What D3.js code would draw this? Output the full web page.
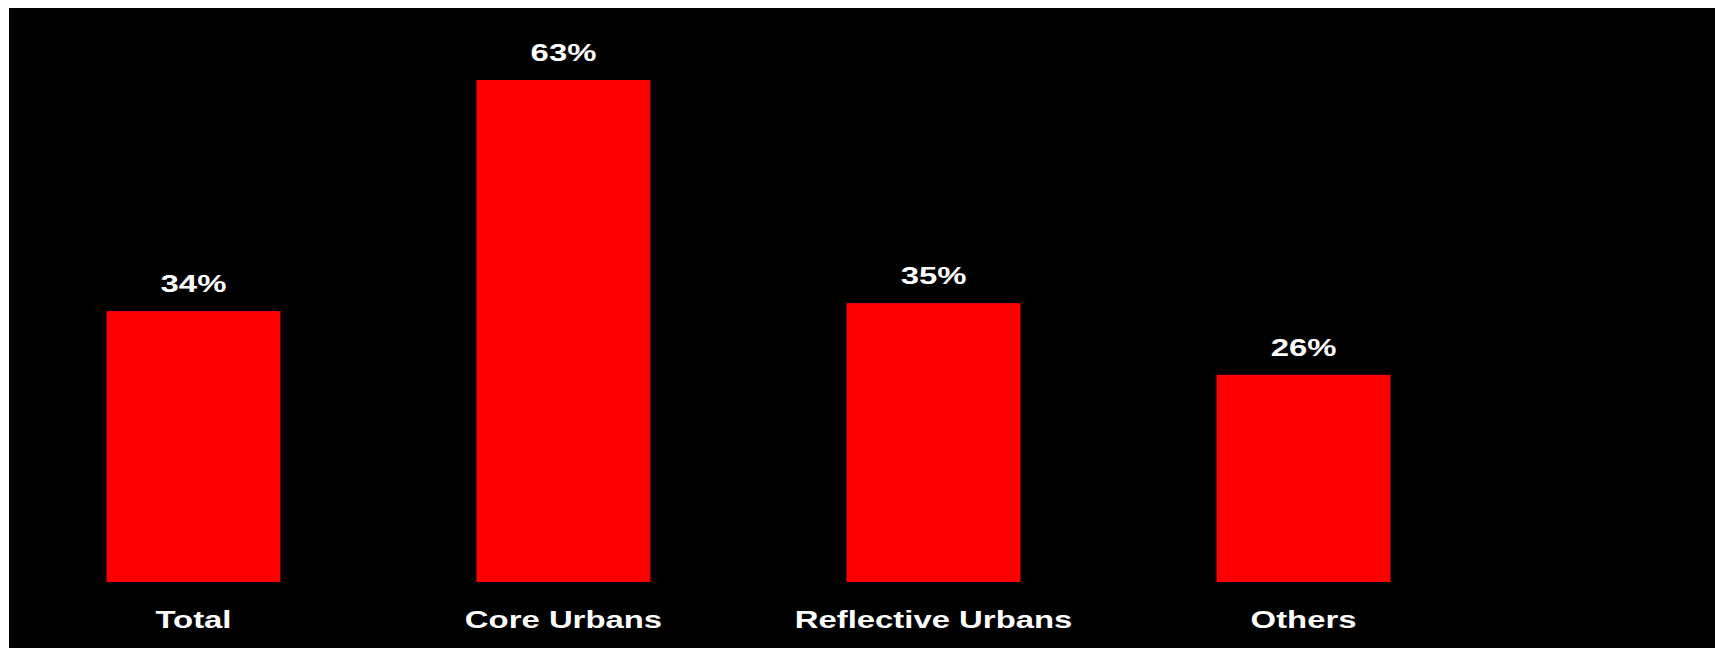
<!DOCTYPE html>
<html>
<head>
<meta charset="utf-8">
<script src="https://cdn.jsdelivr.net/npm/d3@7"></script>
<style>
  body { margin: 0; background: #fff; }
  svg { display: block; }
</style>
</head>
<body>
<div id="vis-container"></div>
<script>
// chart data
let categories = ["Total", "Core Urbans", "Reflective Urbans", "Others"];
let values = [34, 63, 35, 26];

let w = 1715;
let h = 648;

let svg = d3.select("#vis-container")
  .append("svg")
  .attr("width", w)
  .attr("height", h);

// black panel
svg.append("rect")
  .attr("x", 9)
  .attr("y", 8)
  .attr("width", w - 9)
  .attr("height", h - 8)
  .attr("fill", "#000");

let x = d3.scaleBand()
  .domain(categories)
  .range([106.5, 1390.5])
  .paddingInner(0.53)
  .paddingOuter(0);

let y = d3.scaleLinear()
  .domain([0, 63])
  .range([582, 80]);

let data = categories.map((c, i) => ({name: c, value: values[i]}));

svg.selectAll("rect.bar")
  .data(data)
  .enter()
  .append("rect")
  .attr("class", "bar")
  .attr("x", d => x(d.name))
  .attr("y", d => y(d.value))
  .attr("width", x.bandwidth())
  .attr("height", d => y(0) - y(d.value))
  .attr("fill", "#ff0000");

// text in the picture is stretched sideways, so scale it on x
let sx = 1.43;

svg.selectAll("text.val")
  .data(data)
  .enter()
  .append("text")
  .attr("class", "val")
  .attr("transform", d => `translate(${x(d.name) + x.bandwidth() / 2},${y(d.value) - 19}) scale(${sx},1)`)
  .attr("text-anchor", "middle")
  .attr("font-family", "'Liberation Sans', Arial, sans-serif")
  .attr("font-weight", "bold")
  .attr("font-size", 23)
  .attr("fill", "#fff")
  .text(d => d.value + "%");

svg.selectAll("text.cat")
  .data(data)
  .enter()
  .append("text")
  .attr("class", "cat")
  .attr("transform", d => `translate(${x(d.name) + x.bandwidth() / 2},628) scale(${sx},1)`)
  .attr("text-anchor", "middle")
  .attr("font-family", "'Liberation Sans', Arial, sans-serif")
  .attr("font-weight", "bold")
  .attr("font-size", 23)
  .attr("fill", "#fff")
  .text(d => d.name);
</script>
</body>
</html>
